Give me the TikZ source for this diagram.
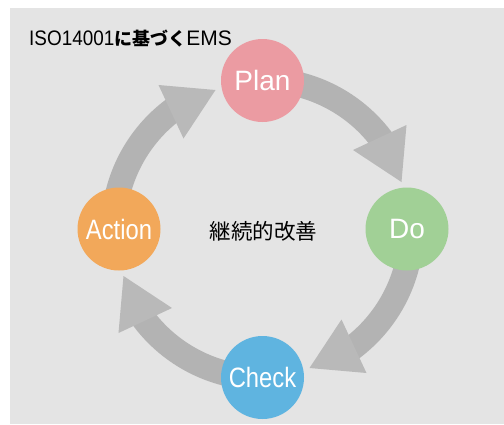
\documentclass[tikz,border=0pt]{standalone}
\usepackage{fontspec}
\setmainfont{Liberation Sans}
\newfontfamily\labfont{Liberation Sans}
\newfontfamily\labnarrow{Liberation Sans}[FakeStretch=0.85]
\newfontfamily\titlenarrow{Liberation Sans}[FakeStretch=0.9]
\newfontfamily\cjk{Noto Sans CJK JP}
\definecolor{bggray}{HTML}{E4E4E4}
\definecolor{shaftgray}{HTML}{B3B3B3}
\definecolor{headgray}{HTML}{B9B9B9}
\definecolor{plancol}{HTML}{EB9BA2}
\definecolor{docol}{HTML}{A1D096}
\definecolor{actcol}{HTML}{F2A85A}
\definecolor{checkcol}{HTML}{5FB4E0}
\begin{document}
\begin{tikzpicture}[x=1pt,y=-1pt,
  shaft/.style={draw=shaftgray, line width=25pt},
  head/.style={fill=headgray},
  stage/.style={circle, minimum size=83pt, inner sep=0pt, text=white},
  wide/.style={font=\labfont\fontsize{28}{30}\selectfont},
  narrow/.style={font=\labnarrow\fontsize{28}{30}\selectfont}]
\useasboundingbox (0,0) rectangle (504,424);
\fill[bggray] (10,8) rectangle (504,424);
\node[anchor=base west, inner sep=0pt, font=\fontsize{21}{24}\selectfont] (title) at (29,45.5) {{\titlenarrow ISO14001}{\cjk\bfseries\fontsize{18}{24}\selectfont に基づく}EMS};
\foreach \k in {0,1,2,3}{
  \begin{scope}[shift={(262.5,229)}, y=1pt, rotate=-90*\k]
    \draw[shaft] (88:149) arc[start angle=88, end angle=32, radius=149];
    \fill[head] (90.5,79) -- (144,104) -- (139,47) -- cycle;
  \end{scope}}
\node[stage, wide, fill=plancol] (plan) at (262.5,80.5) {Plan};
\node[stage, wide, fill=docol] (do) at (407,229) {Do};
\node[stage, narrow, fill=checkcol] (check) at (262.5,377.5) {Check};
\node[stage, narrow, fill=actcol] (action) at (119,229) {Action};
\node[font=\cjk\fontsize{21.5}{24}\selectfont] (centre) at (263.4,231) {継続的改善};
\end{tikzpicture}
\end{document}
